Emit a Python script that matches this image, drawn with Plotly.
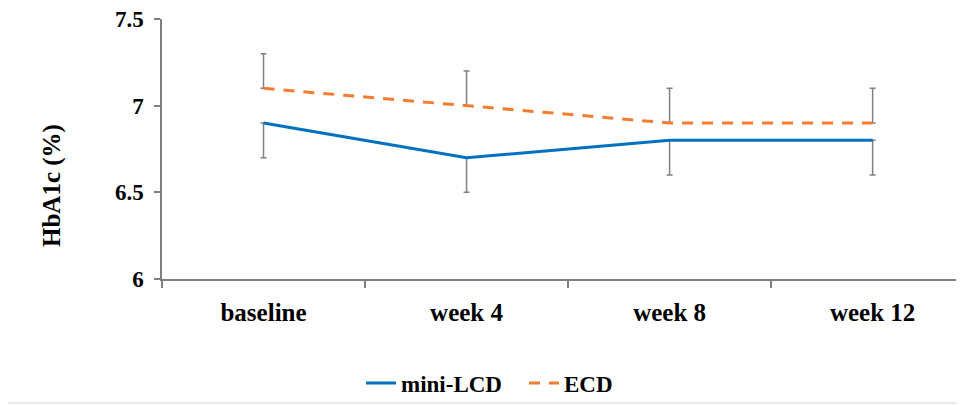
import plotly.graph_objects as go

categories = ["baseline", "week 4", "week 8", "week 12"]
mini_lcd = [6.9, 6.7, 6.8, 6.8]
mini_lcd_err_minus = [0.2, 0.2, 0.2, 0.2]
ecd = [7.1, 7.0, 6.9, 6.9]
ecd_err_plus = [0.2, 0.2, 0.2, 0.2]
y_ticks = [6, 6.5, 7, 7.5]
y_ticktext = ["6", "6.5", "7", "7.5"]
y_title = "HbA1c (%)"

FONT = "Liberation Serif"
ERR_COLOR = "#808080"

fig = go.Figure()
fig.add_trace(go.Scatter(
    x=categories, y=mini_lcd, mode="lines", name="mini-LCD",
    line=dict(color="#0070C0", width=3),
    error_y=dict(type="data", symmetric=False, array=[0] * len(mini_lcd),
                 arrayminus=mini_lcd_err_minus, color=ERR_COLOR,
                 thickness=1.5, width=3),
))
fig.add_trace(go.Scatter(
    x=categories, y=ecd, mode="lines", name="ECD",
    line=dict(color="#F47B30", width=3, dash="11px,9px"),
    error_y=dict(type="data", symmetric=False, array=ecd_err_plus,
                 arrayminus=[0] * len(ecd), color=ERR_COLOR,
                 thickness=1.5, width=3),
))

OFF = 8  # page body margin
W, H = 964 - OFF, 406 - OFF
L, T = 162 - OFF, 19 - OFF
B = H - (279 - OFF)
pw = W - L
ph = H - T - B

def px_x(x):
    return (x - OFF - L) / pw

def px_y(y):
    return (H - B - (y - OFF)) / ph

fig.update_layout(
    width=W, height=H,
    margin=dict(l=L, r=0, t=T, b=B, pad=0),
    paper_bgcolor="white", plot_bgcolor="white",
    font=dict(family=FONT, size=21, color="black", weight="bold"),
    showlegend=True,
    legend=dict(orientation="h", x=px_x(361), xanchor="left",
                y=px_y(383), yanchor="middle",
                entrywidth=118, entrywidthmode="pixels",
                font=dict(family=FONT, size=23, color="black", weight="bold"),
                bgcolor="rgba(0,0,0,0)"),
    xaxis=dict(
        type="category", range=[-0.5, 3.45],
        showline=True, linecolor="#808080", linewidth=1.5,
        ticks="outside", tickson="boundaries", ticklen=7,
        tickcolor="#808080", tickwidth=1.5,
        tickfont=dict(family=FONT, size=25, color="black", weight="bold"),
        ticklabelstandoff=10,
        showgrid=False, zeroline=False,
    ),
    yaxis=dict(
        range=[6, 7.5], tickvals=y_ticks, ticktext=y_ticktext,
        showline=True, linecolor="#808080", linewidth=1.5,
        ticks="outside", ticklen=6, tickcolor="#808080", tickwidth=1.5,
        tickfont=dict(family=FONT, size=23, color="black", weight="bold"),
        ticklabelstandoff=6, ticklabeloverflow="allow",
        showgrid=False, zeroline=False,
    ),
    annotations=[dict(text=y_title, textangle=-90, xref="paper", yref="paper",
                      x=px_x(52), y=px_y(186), xanchor="center", yanchor="middle",
                      showarrow=False,
                      font=dict(family=FONT, size=25, color="black", weight="bold"))],
    shapes=[dict(type="rect", xref="paper", yref="paper",
                 x0=px_x(7), x1=px_x(963.5), y0=px_y(403), y1=px_y(6),
                 line=dict(color="#dfe2e6", width=1.5), layer="below")],
)

fig.write_html("out.html")
